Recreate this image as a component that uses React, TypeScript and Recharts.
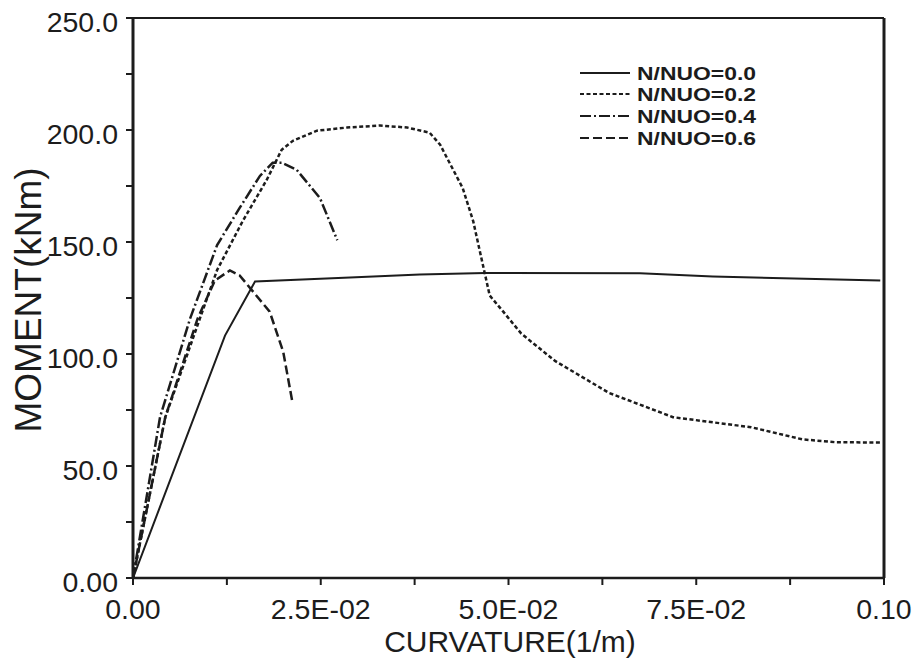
import { LineChart, Line, XAxis, YAxis, ReferenceLine, Label } from 'recharts';

// curvature (1/m) / moment (kNm) pairs for each axial load ratio
const CURV_00 = [0, 0.01225, 0.01625, 0.0289, 0.0382, 0.0469, 0.0675, 0.0772, 0.0995];
const MOM_00 = [0, 108.2, 132.4, 134.2, 135.5, 136.2, 136.0, 134.6, 132.8];

const CURV_02 = [0, 0.0043, 0.0089, 0.0112, 0.0146, 0.0178, 0.0198, 0.0213, 0.0245, 0.0285, 0.0329, 0.0365, 0.0395,
  0.0409, 0.0439, 0.0453, 0.0466, 0.0475, 0.0493, 0.0517, 0.0562, 0.0634, 0.0719, 0.0823, 0.0891, 0.0936, 0.0995];
const MOM_02 = [0, 71.8, 115.8, 137.5, 159.3, 177.7, 191.2, 195.2, 199.7, 201.1, 202.0, 201.1, 198.8,
  193.4, 174.1, 159.3, 139.6, 126.1, 118.9, 109.1, 96.9, 82.6, 71.8, 67.3, 61.9, 60.6, 60.5];

const CURV_04 = [0, 0.0036, 0.0076, 0.0112, 0.0142, 0.0169, 0.0186, 0.0198, 0.0218, 0.0249, 0.0272];
const MOM_04 = [0, 71.8, 115.8, 148.6, 165.2, 179.5, 185.4, 185.4, 182.2, 169.6, 150.8];

const CURV_06 = [0, 0.0043, 0.0086, 0.0109, 0.0129, 0.0142, 0.0182, 0.02, 0.0212];
const MOM_06 = [0, 71.8, 115.8, 132.8, 137.3, 135.1, 118.9, 101.0, 79.0];

const SERIES_NAMES = ['N/NUO=0.0', 'N/NUO=0.2', 'N/NUO=0.4', 'N/NUO=0.6'];
const DASHES = ['', '4 2.5', '11 3 2 3', '9 4'];

const X_TICKS = [0, 0.0125, 0.025, 0.0375, 0.05, 0.0625, 0.075, 0.0875, 0.1];
const X_LABELS = ['0.00', '', '2.5E-02', '', '5.0E-02', '', '7.5E-02', '', '0.10'];
const Y_TICKS = [0, 25, 50, 75, 100, 125, 150, 175, 200, 225, 250];
const Y_LABELS = ['0.00', '', '50.0', '', '100.0', '', '150.0', '', '200.0', '', '250.0'];

const toPoints = (xs: number[], ys: number[]) => xs.map((x, i) => ({ x, y: ys[i] }));
const SERIES_DATA = [
  toPoints(CURV_00, MOM_00),
  toPoints(CURV_02, MOM_02),
  toPoints(CURV_04, MOM_04),
  toPoints(CURV_06, MOM_06),
];

const INK = '#1c1c1c';
const FONT = '"Liberation Sans", Arial, sans-serif';
const tickStyle = { fontSize: 28.5, fill: INK, fontFamily: FONT };

function LegendBox() {
  const rows = [73, 94, 116, 138];
  return (
    <svg width={920} height={666} style={{ position: 'absolute', left: 0, top: 0, pointerEvents: 'none' }}>
      {SERIES_NAMES.map((name, i) => (
        <g key={name}>
          <line x1={580} x2={630} y1={rows[i]} y2={rows[i]} stroke={INK} strokeWidth={2}
            strokeDasharray={DASHES[i] || undefined} />
          <text x={637} y={rows[i] + 7} fontSize={17.5} fontWeight="bold" fontFamily={FONT} fill={INK}
            textLength={119} lengthAdjust="spacingAndGlyphs">{name}</text>
        </g>
      ))}
    </svg>
  );
}

export default function App() {
  return (
    <div style={{ position: 'absolute', left: 0, top: 0, width: 920, height: 666, background: '#fff' }}>
      <LineChart width={920} height={666} data={SERIES_DATA[0]}
        margin={{ top: 18, right: 36, bottom: 0, left: 0 }}>
        <XAxis
          type="number"
          dataKey="x"
          domain={[0, 0.1]}
          ticks={X_TICKS}
          interval={0}
          tickFormatter={(_v: number, i: number) => X_LABELS[i]}
          height={88}
          tickSize={7}
          tickMargin={14}
          tick={tickStyle}
          axisLine={{ stroke: INK, strokeWidth: 2.5 }}
          tickLine={{ stroke: INK, strokeWidth: 2 }}
          allowDataOverflow
        >
          <Label
            content={() => (
              <text x={510} y={652} textAnchor="middle" fontSize={30} fontFamily={FONT} fill={INK}>
                CURVATURE(1/m)
              </text>
            )}
          />
        </XAxis>
        <YAxis
          type="number"
          domain={[0, 250]}
          ticks={Y_TICKS}
          interval={0}
          tickFormatter={(_v: number, i: number) => Y_LABELS[i]}
          width={133}
          tickSize={7}
          tickMargin={8}
          tick={{ ...tickStyle, dy: 4 }}
          axisLine={{ stroke: INK, strokeWidth: 3 }}
          tickLine={{ stroke: INK, strokeWidth: 2 }}
          allowDataOverflow
        >
          <Label
            content={() => (
              <text x={41} y={300} textAnchor="middle" fontSize={37} fontFamily={FONT} fill={INK}
                transform="rotate(-90, 41, 300)">
                MOMENT(kNm)
              </text>
            )}
          />
        </YAxis>
        <ReferenceLine y={250} stroke={INK} strokeWidth={2} />
        <ReferenceLine x={0.1} stroke={INK} strokeWidth={3} />
        {SERIES_DATA.map((pts, i) => (
          <Line
            key={SERIES_NAMES[i]}
            data={pts}
            dataKey="y"
            name={SERIES_NAMES[i]}
            type="linear"
            stroke={INK}
            strokeWidth={i === 0 ? 2 : 2.5}
            strokeDasharray={DASHES[i] || undefined}
            dot={false}
            isAnimationActive={false}
          />
        ))}
      </LineChart>
      <LegendBox />
    </div>
  );
}
